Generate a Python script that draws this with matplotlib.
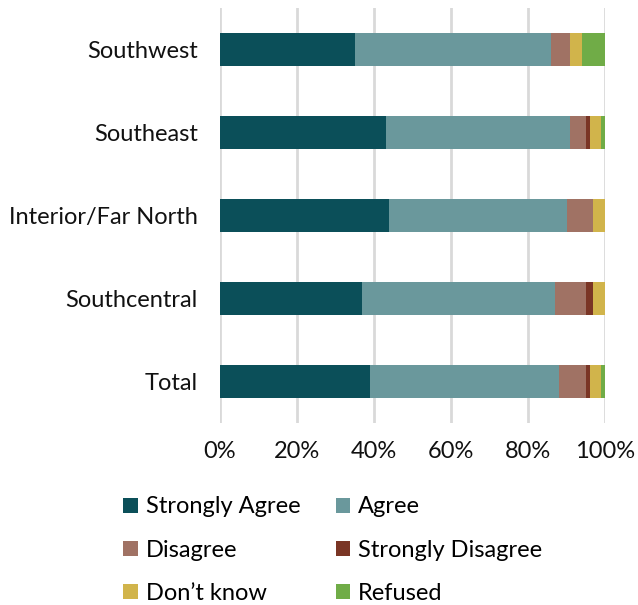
import matplotlib.pyplot as plt
import numpy as np

plt.rcParams['font.family'] = ['Lato', 'DejaVu Sans']

regions = ['Total', 'Southcentral', 'Interior/Far North', 'Southeast', 'Southwest']
strongly_agree = [39, 37, 44, 43, 35]
agree = [49, 50, 46, 48, 51]
disagree = [7, 8, 7, 4, 5]
strongly_disagree = [1, 2, 0, 1, 0]
dont_know = [3, 3, 3, 3, 3]
refused = [1, 0, 0, 1, 6]

series = [strongly_agree, agree, disagree, strongly_disagree, dont_know, refused]
names = ['Strongly Agree', 'Agree', 'Disagree', 'Strongly Disagree', "Don\u2019t know", 'Refused']
colors = ['#0b4f59', '#6a989c', '#a07264', '#7a3525', '#d1b44b', '#70ac47']

fig = plt.figure(figsize=(6.38, 6.05), dpi=100)
ax = fig.add_axes([220 / 638, 1 - 423 / 605, 385 / 638, 415 / 605])

y = np.arange(len(regions))
left = np.zeros(len(regions))
for vals, name, c in zip(series, names, colors):
    ax.barh(y, vals, left=left, height=0.4, color=c, label=name, zorder=3)
    left += np.array(vals)

ax.set_xlim(0, 100)
ax.set_ylim(-0.5, 4.5)
ax.set_xticks([0, 20, 40, 60, 80, 100])
ax.set_xticklabels(['0%', '20%', '40%', '60%', '80%', '100%'])
ax.set_yticks(y)
ax.set_yticklabels(regions)
ax.tick_params(axis='both', length=0, labelsize=17, colors='#111111')
ax.tick_params(axis='x', pad=13)
ax.tick_params(axis='y', pad=16)
ax.grid(axis='x', color='#d9d9d9', linewidth=2, zorder=0)
for s in ax.spines.values():
    s.set_visible(False)

# legend fills column-wise, so reorder to read row by row
order = [0, 2, 4, 1, 3, 5]
handles, labels = ax.get_legend_handles_labels()
fig.legend([handles[i] for i in order], [labels[i] for i in order],
           loc='upper left', bbox_to_anchor=(114 / 638, 1 - 487 / 605),
           ncol=2, frameon=False, fontsize=17, handlelength=0.6, handleheight=0.6,
           handletextpad=0.35, columnspacing=1.5, labelspacing=0.95, borderaxespad=0)

fig.savefig('out.png', dpi=100)
